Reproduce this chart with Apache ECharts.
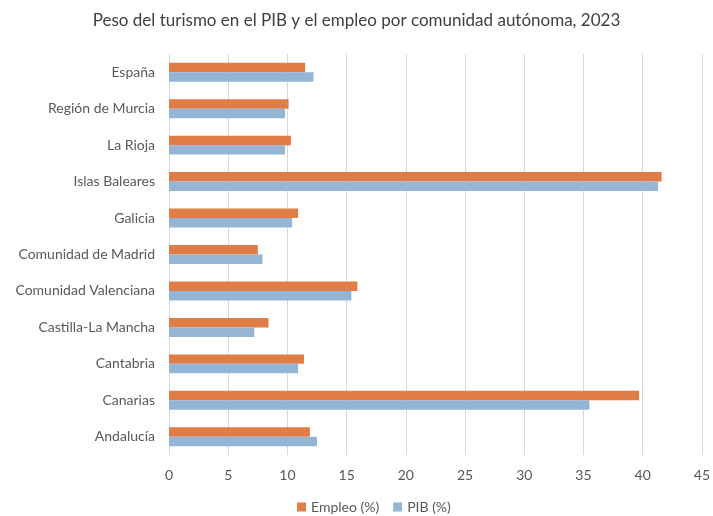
<!DOCTYPE html>
<html>
<head>
<meta charset="utf-8">
<script src="https://cdn.jsdelivr.net/npm/echarts@6/dist/echarts.min.js"></script>
<style>html,body{margin:0;padding:0;background:#fff}#c{width:713px;height:516px}</style>
</head>
<body>
<div id="c"></div>
<script>
var titleText = 'Peso del turismo en el PIB y el empleo por comunidad autónoma, 2023';
var categories = ['Andalucía','Canarias','Cantabria','Castilla-La Mancha','Comunidad Valenciana','Comunidad de Madrid','Galicia','Islas Baleares','La Rioja','Región de Murcia','España'];
var empleo = [11.9, 39.7, 11.4, 8.4, 15.9, 7.5, 10.9, 41.6, 10.3, 10.1, 11.5];
var pib = [12.5, 35.5, 10.9, 7.2, 15.4, 7.9, 10.4, 41.3, 9.8, 9.8, 12.2];
var xTicks = {min: 0, max: 45, interval: 5};

var chart = echarts.init(document.getElementById('c'));
var font = 'Lato';
chart.setOption({
  animation: false,
  title: {text: titleText, left: 'center', top: 7,
    textStyle: {fontFamily: font, fontSize: 17, fontWeight: 'normal', color: '#404040'}},
  legend: {top: 500, left: 292, padding: [0, 5, 0, 5], itemWidth: 9, itemHeight: 9, itemGap: 14,
    icon: 'rect', textStyle: {fontFamily: font, fontSize: 14, color: '#595959'},
    data: ['Empleo (%)', 'PIB (%)']},
  grid: {left: 169, right: 7, top: 54, bottom: 61, containLabel: false},
  xAxis: {type: 'value', min: xTicks.min, max: xTicks.max, interval: xTicks.interval,
    axisLine: {show: false}, axisTick: {show: false},
    axisLabel: {fontFamily: font, fontSize: 14, color: '#595959', margin: 13},
    splitLine: {lineStyle: {color: '#d9d9d9', width: 1}}},
  yAxis: {type: 'category', data: categories,
    axisLine: {show: false}, axisTick: {show: false},
    axisLabel: {fontFamily: font, fontSize: 14, color: '#595959', margin: 14}},
  series: [
    {name: 'Empleo (%)', type: 'bar', data: empleo, barGap: '0%', barCategoryGap: '48%',
      itemStyle: {color: '#E07C46'}},
    {name: 'PIB (%)', type: 'bar', data: pib, barGap: '0%', barCategoryGap: '48%',
      itemStyle: {color: '#94B5D6'}}
  ]
});
</script>
</body>
</html>
